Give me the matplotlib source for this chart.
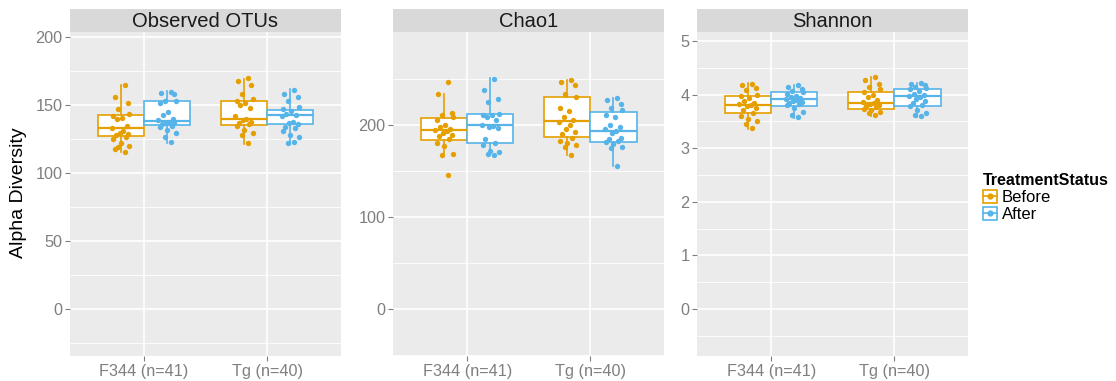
import matplotlib
matplotlib.use("Agg")
import matplotlib.pyplot as plt
from matplotlib.patches import Patch
from matplotlib.lines import Line2D
from matplotlib.legend_handler import HandlerTuple

plt.rcParams['font.family'] = ['Liberation Sans', 'DejaVu Sans']

# ---- data ----
groups = ['F344 (n=41)', 'Tg (n=40)']
status = ['Before', 'After']
metrics = ['Observed OTUs', 'Chao1', 'Shannon']

# box stats per metric: [group][status] -> (whislo, q1, med, q3, whishi)
obs_box = [[(116, 127.6, 133.3, 142.8, 165), (122.5, 135.2, 138.6, 153, 160.7)],
           [(121.5, 135.7, 140, 153, 169.5), (122, 136, 143, 146.5, 161.7)]]
chao_box = [[(167, 183.4, 194.6, 207.3, 233), (167, 179.8, 199.3, 211.6, 250.3)],
            [(167, 187, 204.3, 229.7, 248.4), (155.3, 180.9, 193.2, 213.8, 229.2)]]
shan_box = [[(3.36, 3.66, 3.81, 3.97, 4.21), (3.56, 3.79, 3.92, 4.04, 4.18)],
            [(3.61, 3.74, 3.85, 4.04, 4.32), (3.59, 3.79, 3.98, 4.10, 4.22)]]

# jittered sample points per metric: [group][status]
obs_pts = [[[165, 156, 152, 147, 144, 142, 141, 140, 135, 133, 131, 130, 129, 128, 127, 125, 122, 120, 119, 116, 118],
            [160, 159, 158, 153, 153, 152, 145, 143, 140, 139, 138, 137, 137, 136, 135, 134, 132, 130, 127, 123]],
           [[170, 168, 165, 158, 155, 153, 152, 150, 148, 142, 140, 139, 138, 137, 136, 135, 132, 130, 128, 122],
            [161, 158, 156, 153, 149, 147, 146, 144, 143, 142, 138, 137, 136, 134, 133, 131, 128, 127, 122, 123]]]
chao_pts = [[[246, 233, 213, 211, 208, 205, 200, 197, 195, 194, 193, 191, 189, 188, 185, 180, 177, 168, 167, 145],
             [250, 238, 228, 225, 212, 211, 210, 208, 205, 200, 199, 197, 196, 185, 180, 178, 172, 170, 168, 167]],
            [[248, 246, 243, 233, 230, 218, 215, 208, 205, 203, 200, 195, 192, 190, 186, 182, 180, 178, 176, 167],
             [229, 227, 222, 218, 216, 210, 208, 200, 198, 195, 193, 191, 186, 185, 182, 181, 179, 176, 175, 155]]]
shan_pts = [[[4.20, 4.18, 4.12, 4.08, 4.00, 3.97, 3.93, 3.88, 3.85, 3.82, 3.80, 3.78, 3.75, 3.72, 3.65, 3.60, 3.55, 3.50, 3.45, 3.38],
             [4.18, 4.15, 4.10, 4.07, 4.05, 4.02, 3.98, 3.95, 3.93, 3.92, 3.90, 3.88, 3.86, 3.84, 3.82, 3.80, 3.75, 3.68, 3.62, 3.58]],
            [[4.32, 4.28, 4.20, 4.15, 4.10, 4.05, 4.00, 3.95, 3.90, 3.87, 3.85, 3.83, 3.80, 3.78, 3.76, 3.74, 3.72, 3.68, 3.65, 3.62],
             [4.22, 4.20, 4.18, 4.15, 4.12, 4.10, 4.06, 4.02, 4.00, 3.98, 3.96, 3.92, 3.88, 3.84, 3.80, 3.78, 3.72, 3.66, 3.62, 3.60]]]

# fixed jitter pattern (x offsets in category units)
jit = [0.03, -0.05, 0.06, -0.02, 0.07, -0.06, 0.01, -0.03, 0.05, -0.07,
       0.02, -0.01, 0.06, -0.04, 0.04, -0.06, 0.0, 0.07, -0.02, 0.03, -0.05]

boxes = [obs_box, chao_box, shan_box]
points = [obs_pts, chao_pts, shan_pts]
ylims = [(-34.5, 204), (-50.6, 300.4), (-0.877, 5.168)]
yticks = [[0, 50, 100, 150, 200], [0, 100, 200], [0, 1, 2, 3, 4, 5]]
yminor = [[-25, 25, 75, 125, 175], [-50, 50, 150, 250], [-0.5, 0.5, 1.5, 2.5, 3.5, 4.5]]

colors = ['#E69F00', '#56B4E9']
W, H = 1116, 381
fig = plt.figure(figsize=(W / 100, H / 100), dpi=100)

lefts = [70, 393.3, 697.3]
pw = 271
for k in range(3):
    ax = fig.add_axes([lefts[k] / W, (H - 356) / H, pw / W, (356 - 32) / H])
    ax.set_facecolor('#EBEBEB')
    for s in ax.spines.values():
        s.set_visible(False)
    ax.set_xlim(0.4, 2.6)
    ax.set_ylim(*ylims[k])
    for v in yminor[k]:
        ax.axhline(v, color='white', lw=0.6, zorder=0)
    for v in yticks[k]:
        ax.axhline(v, color='white', lw=1.2, zorder=0)
    for v in [1, 2]:
        ax.axvline(v, color='white', lw=1.2, zorder=0)
    for g in range(2):
        for si in range(2):
            c = colors[si]
            xc = g + 1 + (-0.1875 if si == 0 else 0.1875)
            lo, q1, med, q3, hi = boxes[k][g][si]
            st = [dict(whislo=lo, q1=q1, med=med, q3=q3, whishi=hi, fliers=[])]
            ax.bxp(st, positions=[xc], widths=0.375, patch_artist=True, showcaps=False,
                   boxprops=dict(facecolor='white', edgecolor=c, lw=1.2),
                   whiskerprops=dict(color=c, lw=1.2),
                   medianprops=dict(color=c, lw=1.6), manage_ticks=False)
            vals = points[k][g][si]
            xs = [xc + jit[i % len(jit)] for i in range(len(vals))]
            ax.scatter(xs, vals, s=15, color=c, zorder=5, linewidths=0)
    ax.set_xticks([1, 2])
    ax.set_xticklabels(groups)
    ax.set_yticks(yticks[k])
    ax.tick_params(colors='#7F7F7F', labelsize=11.7, length=3.5, width=0.8,
                   labelcolor='#7F7F7F', pad=2)
    # strip
    sax = fig.add_axes([lefts[k] / W, (H - 32) / H, pw / W, 23 / H])
    sax.set_facecolor('#D9D9D9')
    sax.set_xticks([])
    sax.set_yticks([])
    for s in sax.spines.values():
        s.set_visible(False)
    sax.text(0.5, 0.45, metrics[k], ha='center', va='center', fontsize=14.5,
             color='#1A1A1A', transform=sax.transAxes)

fig.text(19 / W, 1 - 193 / H, 'Alpha Diversity', rotation=90, ha='center',
         va='center', fontsize=14)

handles = [(Patch(facecolor='white', edgecolor=c, lw=1.2),
            Line2D([0, 1], [0.5, 0.5], marker='o', color=c, lw=1.2, markersize=3.5)) for c in colors]
leg = fig.legend(handles, status, loc='upper left', bbox_to_anchor=(975 / W, 1 - 165 / H),
                 frameon=False, title='TreatmentStatus', fontsize=12,
                 handler_map={tuple: HandlerTuple(ndivide=1, pad=0)},
                 handlelength=0.8, handleheight=0.8, handletextpad=0.3,
                 labelspacing=0.1, borderpad=0, alignment='left')
leg.get_title().set_fontweight('bold')
leg.get_title().set_fontsize(11.5)

fig.savefig('out.png', dpi=100)
